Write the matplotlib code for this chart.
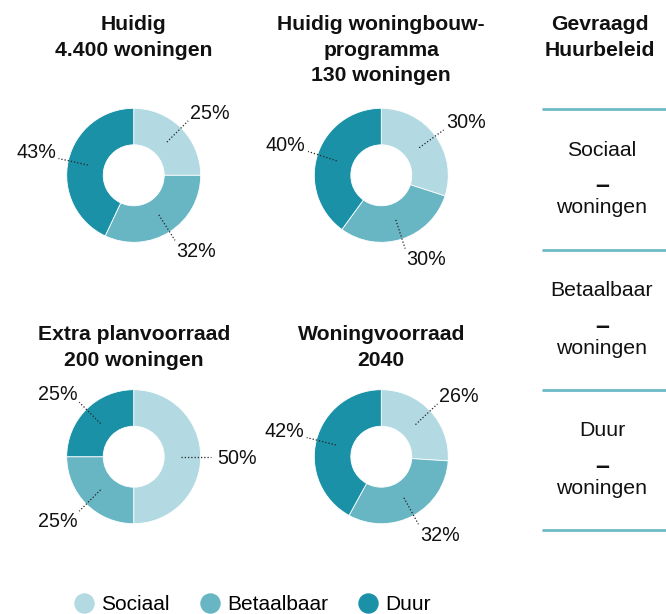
import matplotlib
matplotlib.use("Agg")
import matplotlib.pyplot as plt
from matplotlib.lines import Line2D
import numpy as np

plt.rcParams['font.family'] = ['Liberation Sans', 'DejaVu Sans']

# --- data -------------------------------------------------------------
categories = ["Sociaal", "Betaalbaar", "Duur"]
colors = ["#b3dae2", "#68b6c3", "#1b91a8"]

titles = [
    ["Huidig", "4.400 woningen"],
    ["Huidig woningbouw-", "programma", "130 woningen"],
    ["Extra planvoorraad", "200 woningen"],
    ["Woningvoorraad", "2040"],
]
shares = [
    [25, 32, 43],
    [30, 30, 40],
    [50, 25, 25],
    [26, 32, 42],
]

policy_title = ["Gevraagd", "Huurbeleid"]
policy_values = ["-", "-", "-"]
policy_unit = "woningen"

# --- figure -----------------------------------------------------------
W, H = 666, 614
fig = plt.figure(figsize=(W / 100, H / 100), dpi=100)
fig.patch.set_facecolor("white")

# overlay axes in pixel units (y downwards) for titles and the side panel
bg = fig.add_axes([0, 0, 1, 1])
bg.set_xlim(0, W)
bg.set_ylim(H, 0)
bg.axis("off")

R = 67.0
centers = [(133.7, 175.3), (381.3, 175.3), (133.7, 456.7), (381.3, 456.7)]
title_baselines = [[30, 55.5], [30, 55.5, 81], [340, 365.5], [340, 365.5]]

LABEL_FS = 14.2
for (cx, cy), vals, ttl, tb in zip(centers, shares, titles, title_baselines):
    for line, yb in zip(ttl, tb):
        bg.text(cx, yb, line, ha="center", va="baseline",
                fontsize=15.2, fontweight="bold", color="#111111")

    ax = fig.add_axes([(cx - R) / W, 1 - (cy + R) / H, 2 * R / W, 2 * R / H])
    wedges, _ = ax.pie(vals, colors=colors, startangle=90, counterclock=False,
                       radius=1.0,
                       wedgeprops=dict(width=0.545, edgecolor="white", linewidth=0.6))
    ax.set_xlim(-1, 1)
    ax.set_ylim(-1, 1)
    ax.set_aspect("equal")
    ax.axis("off")

    for w, v in zip(wedges, vals):
        th = np.deg2rad((w.theta1 + w.theta2) / 2)
        c, s = np.cos(th), np.sin(th)
        ax.plot([0.70 * c, 1.15 * c], [0.70 * s, 1.15 * s], color="#222222",
                lw=0.9, ls=(0, (1, 1.6)), clip_on=False)
        ha = "left" if c > 0.1 else ("right" if c < -0.1 else "center")
        # label corner nearest to the ring sits at the end of the leader
        if s > 0.1:
            dy, rl = 0.0, 1.19
        elif s < -0.1:
            dy, rl = -0.72 * LABEL_FS, 1.19
        else:
            dy, rl = -0.36 * LABEL_FS, 1.25
        ax.annotate(f"{v}%", xy=(rl * c, rl * s), xytext=(0, dy),
                    textcoords="offset points", ha=ha, va="baseline",
                    fontsize=LABEL_FS, color="#111111", annotation_clip=False)

# --- side panel: requested rental policy ------------------------------
px = 602
for line, yb in zip(policy_title, [30, 55.5]):
    bg.text(600, yb, line, ha="center", va="baseline", fontsize=15.2,
            fontweight="bold", color="#111111")

row_top = 109.3
row_h = 140.2
line_color = "#6cbac8"
for i, (cat, val) in enumerate(zip(categories, policy_values)):
    y0 = row_top + i * row_h
    bg.plot([542, 666], [y0, y0], color=line_color, lw=2.0, solid_capstyle="butt")
    bg.text(px, y0 + 46.5, cat, ha="center", va="baseline", fontsize=15.3,
            color="#111111")
    bg.text(px, y0 + 84, "–", ha="center", va="baseline", fontsize=18,
            fontweight="bold", color="#111111")
    bg.text(px, y0 + 104, policy_unit, ha="center", va="baseline",
            fontsize=15.3, color="#111111")
y_end = row_top + len(categories) * row_h
bg.plot([542, 666], [y_end, y_end], color=line_color, lw=2.0, solid_capstyle="butt")

# --- legend -----------------------------------------------------------
handles = [Line2D([], [], marker="o", linestyle="none", markersize=13.7,
                  markerfacecolor=col, markeredgecolor=col) for col in colors]
fig.legend(handles, categories, loc="center left",
           bbox_to_anchor=(73.6 / W, 1 - 605 / H), ncol=3, frameon=False,
           fontsize=15, handlelength=1.0, handletextpad=0.34,
           columnspacing=1.4, borderpad=0, borderaxespad=0)

fig.savefig("out.png", dpi=100, facecolor="white")
